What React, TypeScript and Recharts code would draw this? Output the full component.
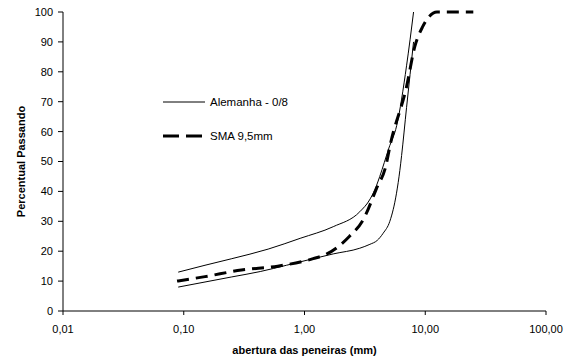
import { Legend, Line, LineChart, XAxis, YAxis } from 'recharts';

// Alemanha 0/8 envelope: upper limit curve
const upperSieves = [0.09, 0.15, 0.25, 0.5, 0.92, 1.73, 2.87, 3.5, 3.95, 4.2, 5, 5.8, 7, 8];
const upperPassing = [13, 15.3, 17.5, 20.7, 24.3, 28.2, 33.2, 37.5, 42, 45, 54.5, 62, 82, 100];

// Alemanha 0/8 envelope: lower limit curve
const lowerSieves = [0.09, 0.25, 0.43, 0.71, 1.73, 2.87, 3.48, 4, 4.48, 5.09, 5.78, 6.16, 6.37, 7, 8];
const lowerPassing = [8, 11.4, 13.2, 15.3, 19.1, 21, 22.3, 23.6, 26, 30, 39.4, 47, 52, 68, 90];

// SMA 9,5mm gradation
const smaSieves = [0.088, 0.15, 0.3, 0.6, 1.18, 1.52, 2.36, 3.06, 3.95, 4.75, 5.09, 7, 8.2, 9.5, 12.5, 19, 25];
const smaPassing = [10, 11.5, 13.7, 15, 17.5, 19, 25, 30.5, 41, 49, 55, 75, 88.5, 95, 100, 100, 100];

const xTicks = [0.01, 0.1, 1, 10, 100];
const yTicks = [0, 10, 20, 30, 40, 50, 60, 70, 80, 90, 100];

const toPoints = (sieves: number[], passing: number[]) => sieves.map((x, i) => ({ x, y: passing[i] }));

const font = '"Liberation Sans", Arial, sans-serif';
const tickStyle = { fontFamily: font, fontSize: 11, fill: '#000' };

const ChartLegend = () => (
  <svg width={140} height={52} style={{ display: 'block' }}>
    <line x1={1} y1={10} x2={43} y2={10} stroke="#000" strokeWidth={1} />
    <text x={48} y={14} style={{ fontFamily: font, fontSize: 11.5 }} fill="#000">
      Alemanha - 0/8
    </text>
    <line x1={1} y1={44} x2={41} y2={44} stroke="#000" strokeWidth={3} strokeDasharray="16 7" />
    <text x={48} y={48} style={{ fontFamily: font, fontSize: 11.5 }} fill="#000">
      SMA 9,5mm
    </text>
  </svg>
);

const App = () => {
  return (
    <div style={{ position: 'absolute', left: 0, top: 0 }}>
      <LineChart width={575} height={362} margin={{ top: 12, right: 29, left: 0, bottom: 0 }}>
        <XAxis
          dataKey="x"
          type="number"
          scale="log"
          domain={[0.01, 100]}
          ticks={xTicks}
          allowDataOverflow
          tickFormatter={(v: number) => v.toFixed(2).replace('.', ',')}
          tick={tickStyle}
          tickSize={4}
          tickMargin={10}
          height={51}
          axisLine={{ stroke: '#000' }}
          tickLine={{ stroke: '#000' }}
          label={{
            value: 'abertura das peneiras (mm)',
            position: 'insideBottom',
            offset: 8,
            style: { fontFamily: font, fontSize: 11, fontWeight: 'bold', fill: '#000' },
          }}
        />
        <YAxis
          type="number"
          domain={[0, 100]}
          ticks={yTicks}
          width={63}
          tick={tickStyle}
          tickSize={5}
          tickMargin={5}
          axisLine={{ stroke: '#000' }}
          tickLine={{ stroke: '#000' }}
          label={{
            value: 'Percentual Passando',
            angle: -90,
            position: 'insideLeft',
            offset: 21,
            style: { textAnchor: 'middle', fontFamily: font, fontSize: 11, fontWeight: 'bold', fill: '#000' },
          }}
        />
        <Legend
          layout="vertical"
          align="center"
          verticalAlign="middle"
          wrapperStyle={{ left: 162, top: 92, width: 140 }}
          content={() => <ChartLegend />}
        />
        <Line
          data={toPoints(upperSieves, upperPassing)}
          dataKey="y"
          type="monotone"
          stroke="#000"
          strokeWidth={1}
          dot={false}
          legendType="none"
          isAnimationActive={false}
        />
        <Line
          data={toPoints(lowerSieves, lowerPassing)}
          dataKey="y"
          type="monotone"
          stroke="#000"
          strokeWidth={1}
          dot={false}
          legendType="none"
          isAnimationActive={false}
        />
        <Line
          data={toPoints(smaSieves, smaPassing)}
          dataKey="y"
          type="monotone"
          stroke="#000"
          strokeWidth={3}
          strokeDasharray="12 7"
          dot={false}
          legendType="none"
          isAnimationActive={false}
        />
      </LineChart>
    </div>
  );
};

export default App;
